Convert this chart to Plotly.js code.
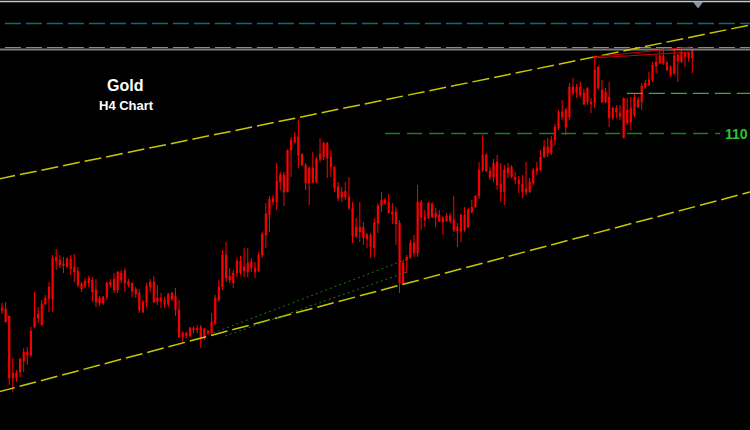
<!DOCTYPE html>
<html><head><meta charset="utf-8">
<script src="https://cdn.plot.ly/plotly-3.0.1.min.js"></script>
<style>html,body{margin:0;padding:0;background:#000;overflow:hidden}#chart{width:750px;height:430px}</style>
</head><body><div id="chart"></div>
<script>
const openP = [925,924,917,855,855,861,872,878,878,906,
915,908,929,934,934,976,973,967,966,974,
966,962,944,947,950,953,943,935,930,936,
948,943,943,960,962,952,950,944,940,921,
930,946,951,931,935,933,929,940,937,923,
896,900,897,905,903,906,896,902,900,910,
933,946,978,957,950,960,972,962,970,971,
965,962,978,998,1018,1031,1031,1051,1058,1041,
1083,1091,1096,1079,1068,1050,1065,1051,1074,1076,
1090,1076,1066,1046,1036,1042,1036,1025,997,1006,
1006,994,998,985,1010,1027,1033,1031,1021,1021,
1010,950,973,976,990,980,1031,1016,1015,1029,
1020,1018,1011,1012,1017,1013,1002,1002,1018,1006,
1021,1026,1037,1063,1078,1062,1056,1071,1049,1041,
1060,1066,1056,1053,1049,1041,1041,1050,1062,1063,
1076,1086,1080,1093,1105,1121,1106,1116,1146,1140,
1146,1140,1131,1131,1130,1166,1143,1131,1136,1115,
1125,1120,1135,1110,1125,1118,1133,1131,1146,1148,
1153,1167,1170,1177,1170,1166,1160,1178,1171,1180,
1175,1175];
const highP = [930,931,917,875,863,875,885,886,906,941,
926,933,938,951,978,984,978,976,976,978,
979,966,951,955,957,956,954,937,937,951,
954,960,962,963,965,954,950,946,944,933,
950,954,957,948,940,936,940,941,945,933,
902,901,906,907,908,908,905,903,920,938,
953,983,991,965,963,975,977,985,985,975,
971,981,1001,1030,1037,1038,1070,1061,1061,1083,
1096,1101,1113,1079,1070,1066,1081,1076,1095,1091,
1091,1083,1067,1051,1046,1051,1056,1031,1015,1031,
1011,1000,1000,1015,1030,1041,1035,1039,1030,1026,
1013,973,978,993,998,1048,1033,1023,1031,1031,
1025,1023,1017,1020,1020,1037,1010,1019,1026,1025,
1033,1038,1071,1098,1080,1066,1074,1078,1070,1068,
1070,1068,1061,1057,1058,1071,1055,1065,1071,1083,
1093,1095,1097,1109,1123,1133,1125,1150,1155,1149,
1151,1144,1146,1135,1175,1167,1153,1145,1151,1126,
1128,1128,1135,1135,1136,1140,1136,1150,1153,1161,
1171,1178,1183,1186,1172,1168,1185,1179,1183,1181,
1181,1184];
const lowP = [919,911,848,841,851,856,861,868,876,905,
910,908,928,921,921,963,965,960,966,958,
951,946,941,945,946,931,926,927,928,933,
946,940,940,950,941,946,936,935,920,920,
926,941,930,928,925,925,926,932,917,895,
890,895,896,900,900,885,893,898,898,908,
931,943,951,950,945,956,958,956,956,961,
955,961,975,985,1001,1028,1023,1043,1027,1041,
1056,1090,1065,1067,1043,1028,1050,1050,1071,1073,
1055,1056,1041,1032,1031,1033,1023,990,995,991,
988,985,975,976,1000,1021,1028,1020,1009,988,
940,948,960,975,976,976,1003,1006,1014,1015,
1006,1011,998,1011,1010,1001,986,991,1001,1005,
1020,1025,1034,1061,1061,1053,1051,1043,1031,1028,
1055,1055,1049,1040,1035,1038,1040,1048,1058,1062,
1075,1076,1078,1088,1103,1113,1098,1113,1138,1135,
1136,1128,1128,1120,1125,1143,1130,1130,1106,1113,
1115,1113,1095,1108,1103,1116,1125,1123,1144,1147,
1151,1160,1169,1168,1162,1156,1158,1151,1170,1166,
1171,1160];
const closeP = [923,911,855,860,860,874,881,881,902,916,
919,929,935,946,975,972,968,969,974,964,
961,948,949,952,955,941,931,930,936,950,
951,954,961,953,950,948,942,939,923,931,
947,951,931,935,932,929,939,934,923,896,
900,897,905,903,905,896,904,900,911,935,
946,978,955,953,960,972,960,966,961,965,
961,978,999,1019,1034,1035,1052,1058,1041,1083,
1093,1096,1078,1068,1050,1065,1051,1074,1079,1090,
1075,1066,1045,1035,1041,1036,1025,997,1006,1001,
995,998,986,1010,1027,1033,1030,1020,1019,1009,
950,970,976,990,980,1031,1016,1013,1030,1016,
1016,1012,1015,1017,1012,1003,1006,1018,1003,1023,
1026,1037,1063,1078,1062,1056,1070,1048,1041,1063,
1065,1056,1053,1049,1041,1044,1051,1063,1065,1076,
1086,1080,1093,1106,1121,1116,1123,1146,1140,1146,
1138,1129,1145,1129,1163,1145,1131,1141,1115,1125,
1121,1117,1095,1123,1111,1136,1126,1147,1150,1153,
1168,1171,1177,1170,1163,1158,1177,1172,1180,1176,
1180,1183];

// bar positions (H4 bar index)
const bars = openP.map((_, i) => i);

// channel / trend lines: [bar, price] endpoints
const channelBars = [-1, 207];
const upperChannel = [1054, 1208];
const lowerChannel = [841, 1041];
const trendABars = [58.4, 113.7], trendA = [900, 976];
const trendBBars = [61.7, 112.1], trendB = [897, 961];
const redFanBars = [163.5, 190.5];
const redFanA = [1176, 1186];
const redFanB = [1175, 1181];

// horizontal levels
const levelTop = 1231.5;
const levelTealDark = 1209.5;
const levelTeal = 1185.5;
const levelGray = 1183.5;
const levelGreenLight = 1139.7, levelGreenLightBars = [172.9, 210];
const level1100 = 1099.5, level1100Bars = [106, 198.7];
const levelLabel = '110';
const markerBar = [192.6], markerPrice = [1229];

const full = [-5, 215];
function hline(xs, y, color, width, dash) {
  return {type:'scatter', mode:'lines', x:xs, y:[y,y], line:{color:color, width:width, dash:dash}, hoverinfo:'skip'};
}
function seg(xs, ys, color, width, dash) {
  return {type:'scatter', mode:'lines', x:xs, y:ys, line:{color:color, width:width, dash:dash}, hoverinfo:'skip'};
}

const traces = [
  hline(full, levelTop, '#c8c8c8', 1.5, 'solid'),
  hline(full, levelTealDark, '#007070', 1.5, '16px,5px'),
  hline(full, levelTeal, '#20b4b4', 1.2, '16px,5px'),
  hline(full, levelGray, '#7c7c7c', 1.8, 'solid'),
  hline(levelGreenLightBars, levelGreenLight, '#3caa3c', 1.2, '16px,6px'),
  hline(level1100Bars, level1100, '#1f7d1f', 1.6, '15px,7px'),
  seg(channelBars, upperChannel, '#c8c800', 1.5, '17px,5px'),
  seg(channelBars, lowerChannel, '#c8c800', 1.5, '17px,5px'),
  seg(trendABars, trendA, '#1a7a1a', 1, '2px,3px'),
  seg(trendBBars, trendB, '#1a7a1a', 1, '2px,3px'),
  seg(redFanBars, redFanA, '#d00000', 1.2, 'solid'),
  seg(redFanBars, redFanB, '#d00000', 1.2, 'solid'),
  {type:'candlestick', x:bars, open:openP, high:highP, low:lowP, close:closeP,
   increasing:{line:{color:'#ff0000', width:1}, fillcolor:'#ff0000'},
   decreasing:{line:{color:'#ff0000', width:1}, fillcolor:'#ff0000'},
   whiskerwidth:0, hoverinfo:'skip'},
  {type:'scatter', mode:'markers', x:markerBar, y:markerPrice,
   marker:{symbol:'triangle-down', size:9, color:'#8896a4'}, hoverinfo:'skip'}
];

const layout = {
  width:750, height:430,
  margin:{l:0, r:0, t:0, b:0},
  paper_bgcolor:'#000000', plot_bgcolor:'#000000',
  showlegend:false, boxgap:0.55,
  xaxis:{range:[-0.553, 206.97], visible:false, showgrid:false, zeroline:false, rangeslider:{visible:false}, fixedrange:true},
  yaxis:{range:[803, 1233], visible:false, showgrid:false, zeroline:false, fixedrange:true},
  annotations:[
    {xref:'paper', yref:'paper', x:125/750, y:1-86/430, text:'<b>Gold</b>', showarrow:false,
     font:{family:'Liberation Sans, Arial, sans-serif', size:16, color:'#ffffff'}, xanchor:'center', yanchor:'middle'},
    {xref:'paper', yref:'paper', x:126.5/750, y:1-105/430, text:'<b>H4 Chart</b>', showarrow:false,
     font:{family:'Liberation Sans, Arial, sans-serif', size:13, color:'#ffffff'}, xanchor:'center', yanchor:'middle'},
    {xref:'paper', y:level1100, yref:'y', x:749/750, text:'<b>' + levelLabel + '</b>', showarrow:false,
     font:{family:'Liberation Sans, Arial, sans-serif', size:14, color:'#2ec42e'}, xanchor:'right', yanchor:'middle',
     borderpad:0}
  ]
};

Plotly.newPlot('chart', traces, layout, {displayModeBar:false, staticPlot:true});
</script>
</body></html>
